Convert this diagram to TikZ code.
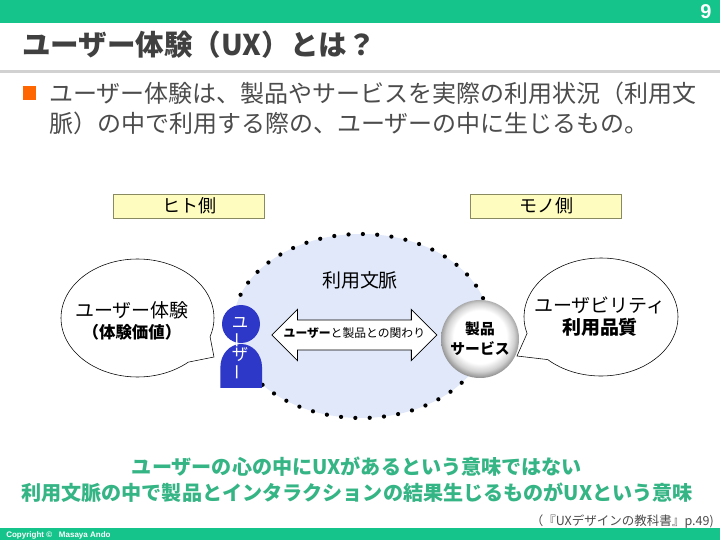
\documentclass[tikz,border=0pt]{standalone}
\usepackage{fontspec}
\setmainfont{Noto Sans CJK JP}
\newfontfamily\latinfont{Liberation Sans}
\usetikzlibrary{shapes.arrows,shapes.callouts}
\definecolor{barGreen}{HTML}{14C48A}
\definecolor{noteGreen}{HTML}{35B585}
\definecolor{contextBlue}{HTML}{E0E8FA}
\definecolor{userBlue}{HTML}{2E38C8}
\definecolor{sideEdge}{HTML}{8A8A60}
\pgfdeclareradialshading{productball}{\pgfpoint{0bp}{2bp}}{
	color(0bp)=(white); color(17bp)=(white); color(22bp)=(black!18);
	color(26bp)=(black!45); color(28bp)=(black!40); color(50bp)=(black!40)}
\begin{document}
\begin{tikzpicture}[font=\fontsize{13.5}{16}\selectfont,
	bar/.style={fill=barGreen,draw=none},
	sidebox/.style={draw=sideEdge,line width=0.7pt,fill=yellow!25,minimum width=3.775cm,minimum height=0.6cm,inner sep=0pt,font=\fontsize{12.8}{14}\selectfont},
	speech/.style={ellipse callout,draw,fill=white,callout pointer arc=30,minimum width=3.825cm,minimum height=2.95cm,inner sep=0pt},
	usertext/.style={text=white,inner sep=0pt,font=\fontsize{11.7}{12}\selectfont},
	note/.style={text=noteGreen,font=\fontsize{14.3}{18.5}\selectfont\bfseries,align=center}]
	\useasboundingbox (0,0) rectangle (18,13.5);
	\fill[white] (0,0) rectangle (18,13.5);
	% header and footer
	\path[bar] (0,12.92) rectangle (18,13.5);
	\path[bar] (0,0) rectangle (18,0.3);
	\fill[black!18] (0,11.675) rectangle (18,11.75);
	\node[text=white,font=\latinfont\fontsize{14.2}{16}\selectfont\bfseries] (pageno) at (17.65,13.22) {9};
	\node[anchor=west,text=white,inner sep=0pt,font=\latinfont\fontsize{5.7}{7}\selectfont\bfseries] (copyright) at (0.15,0.11) {Copyright ©\ \ \ Masaya Ando};
	\node[anchor=west,inner sep=0pt,text=black!75,font=\fontsize{20.3}{24}\selectfont\bfseries] (title) at (0.55,12.375) {ユーザー体験（UX）とは？};
	\fill[orange!80!red] (0.575,11) rectangle (0.9,11.35);
	\node[anchor=west,inner sep=0pt,text=black!70,align=left,font=\fontsize{17.07}{21.3}\selectfont] (lead) at (1.23,10.8) {ユーザー体験は、製品やサービスを実際の利用状況（利用文\\脈）の中で利用する際の、ユーザーの中に生じるもの。};
	% sides
	\node[sidebox] (human) at (4.73,8.35) {ヒト側};
	\node[sidebox] (thing) at (13.66,8.35) {モノ側};
	% context
	\draw[fill=contextBlue,line width=3pt,line cap=round,dash pattern=on 0pt off 10.2pt] (9.025,5.35) ellipse (3.2 and 2.3);
	\node (context) at (9,6.5) {利用文脈};
	\node[double arrow,draw,line width=0.6pt,fill=white,double arrow head extend=0.2625cm,double arrow tip angle=90,minimum height=4.125cm,minimum width=1.25cm,inner ysep=0.24cm,inner xsep=-0.1cm,text height=0.2cm,text depth=0.05cm,font=\fontsize{8.4}{10}\selectfont] (relation) at (8.86,5.125) {\textbf{ユーザー}と製品との関わり};
	% user
	\fill[userBlue] (5.51,3.8) -- (5.51,4.325) arc (180:0:0.52 and 0.575) -- (6.55,3.8) -- cycle;
	\node[circle,fill=userBlue,minimum size=0.95cm,inner sep=0pt] (head) at (6.025,5.4) {};
	\node[usertext] (userA) at (6,5.425) {ユ};
	\node[usertext,rotate=90] (userB) at (6,5) {ー};
	\node[usertext] (userC) at (6,4.625) {ザ};
	\node[usertext,rotate=90] (userD) at (6,4.2) {ー};
	% product
	\node[circle,minimum size=1.95cm,inner sep=0pt,shading=productball,align=center,font=\fontsize{10.5}{14.5}\selectfont\bfseries] (product) at (12,5.025) {製品\\サービス};
	% speech
	\node[speech,callout absolute pointer={(5.35,4.575)}] (uxcall) at (3.4375,5.55) {};
	\node[align=center,inner sep=0pt,font=\fontsize{13.5}{16}\selectfont] (uxtext) at (3.3,5.48) {ユーザー体験\\[-1pt]{\fontsize{11.7}{14}\selectfont\bfseries（体験価値）}};
	\node[speech,minimum width=3.85cm,callout absolute pointer={(12.925,4.6)}] (usecall) at (15.025,5.575) {};
	\node[align=center,inner sep=0pt,font=\fontsize{13.5}{16}\selectfont] (usetext) at (15,5.58) {ユーザビリティ\\{\bfseries 利用品質}};
	% note
	\node[note] (message) at (8.925,1.5) {ユーザーの心の中にUXがあるという意味ではない\\利用文脈の中で製品とインタラクションの結果生じるものがUXという意味};
	\node[anchor=east,inner sep=0pt,text=black!70,font=\fontsize{8.9}{11}\selectfont] (source) at (17.85,0.46) {（『UXデザインの教科書』p.49)};
\end{tikzpicture}
\end{document}
